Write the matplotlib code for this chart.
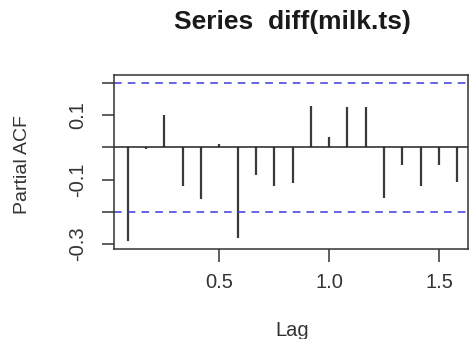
import matplotlib
matplotlib.use("Agg")
import matplotlib.pyplot as plt

lags = [i / 12 for i in range(1, 20)]
pacf = [-0.292, -0.004, 0.102, -0.120, -0.161, 0.009, -0.281, -0.086, -0.119,
        -0.111, 0.128, 0.033, 0.124, 0.124, -0.158, -0.055, -0.119, -0.055, -0.107]
ci = 0.201
yticks = [-0.3, -0.2, -0.1, 0.0, 0.1, 0.2]
ytick_labels = ["-0.3", "", "-0.1", "", "0.1", ""]
xticks = [0.5, 1.0, 1.5]
xtick_labels = ["0.5", "1.0", "1.5"]

plt.rcParams['font.family'] = ['Liberation Sans', 'DejaVu Sans']

fig = plt.figure(figsize=(4.7, 3.39), dpi=100)
ax = fig.add_axes([114 / 470, 1 - 249 / 339, (468 - 114) / 470, (249 - 75) / 339])

ax.vlines(lags, 0, pacf, colors="#3a3a3a", linewidth=1.6)
ax.axhline(0, color="#222222", linewidth=1.1)
for v in (ci, -ci):
    ax.axhline(v, color="#3b3bdd", linewidth=1.1, linestyle=(0, (5, 4)))

ax.set_xlim(0.0207, 1.632)
ax.set_ylim(-0.3155, 0.2248)

ax.set_yticks(yticks)
ax.set_yticklabels(ytick_labels, rotation=90, va="center")
ax.set_xticks(xticks)
ax.set_xticklabels(xtick_labels)

for s in ax.spines.values():
    s.set_color("#333333")
    s.set_linewidth(1.1)

ax.tick_params(axis="both", which="both", length=9, width=1.1, color="#333333",
               labelsize=14.5, labelcolor="#333333")
ax.tick_params(axis="x", pad=8)
ax.tick_params(axis="y", pad=10)

fig.text(292.5 / 470, 1 - 22 / 339, "Series  diff(milk.ts)", ha="center", va="center",
         fontsize=19, fontweight="bold", color="#1a1a1a")
fig.text(292.5 / 470, 1 - 330 / 339, "Lag", ha="center", va="center",
         fontsize=14.5, color="#333333")
fig.text(23 / 470, 1 - 165 / 339, "Partial ACF", ha="center", va="center",
         fontsize=14, rotation=90, color="#333333")

fig.savefig("out.png", dpi=100)
